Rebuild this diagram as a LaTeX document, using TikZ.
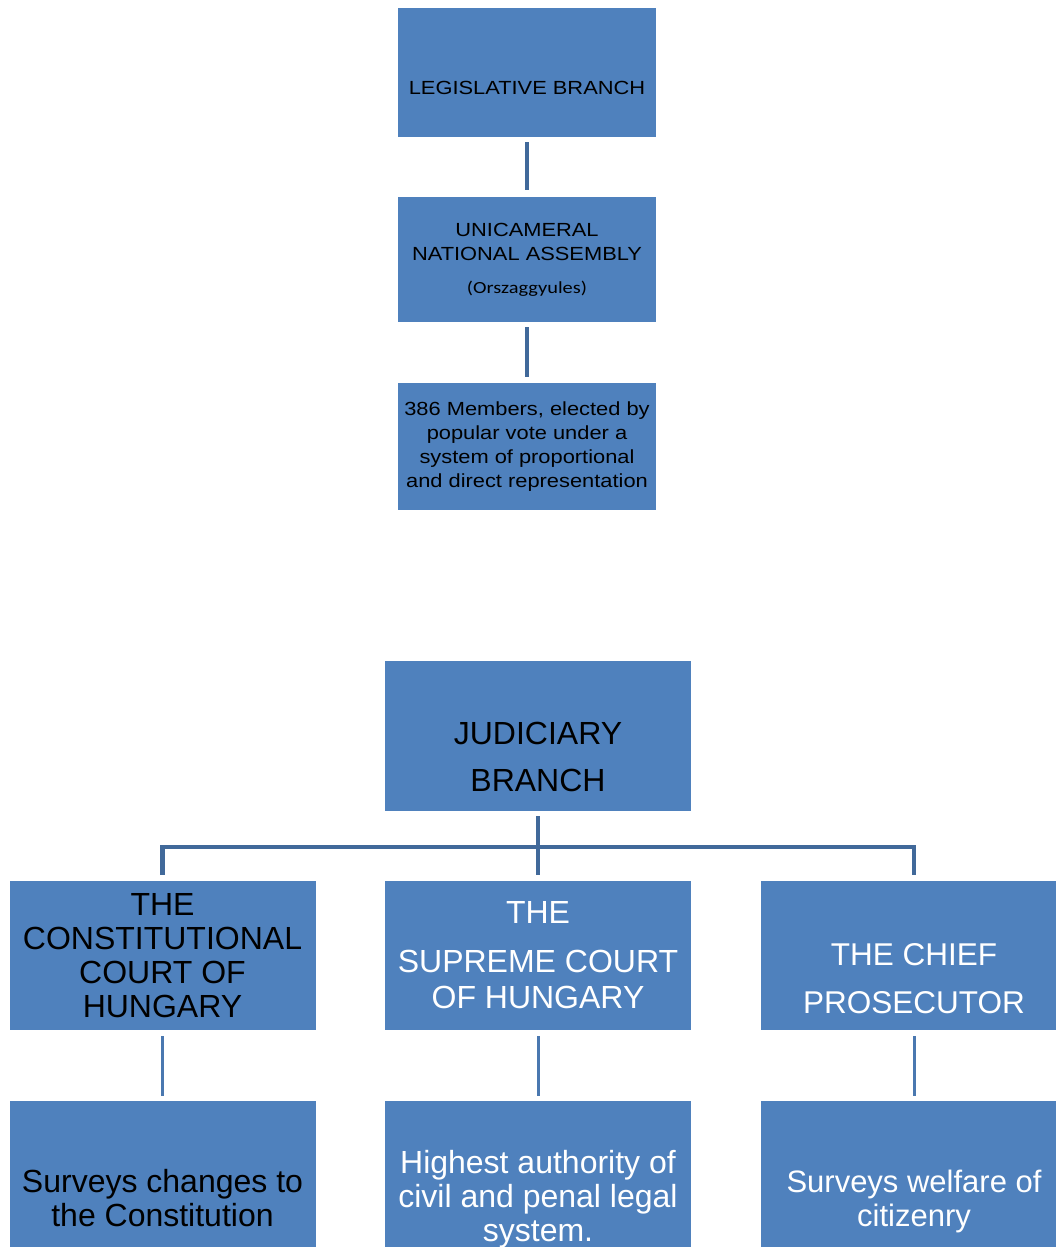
\documentclass[tikz,border=0pt]{standalone}
\usepackage{fontspec}
\setmainfont{Liberation Sans}
\newfontfamily\widefont[FakeStretch=1.15]{Liberation Sans}
\newfontfamily\calfont[FakeStretch=1.2]{Carlito}
\definecolor{boxblue}{HTML}{4F81BD}
\definecolor{lineblue}{HTML}{41699A}
\definecolor{lineblueb}{HTML}{4A78B0}
\begin{document}
\begin{tikzpicture}[x=1pt,y=-1pt,
  box/.style={fill=boxblue, draw=none, inner sep=0pt, align=center},
  topbox/.style={box, minimum width=258pt},
  lowbox/.style={box, minimum width=306pt, minimum height=149pt},
  txt/.style={inner sep=0pt, align=center},
  topfont/.style={font=\widefont\fontsize{19}{24}\selectfont},
  bigfont/.style={font=\fontsize{32}{34}\selectfont},
  conn/.style={draw=lineblue, line width=4pt},
  busline/.style={draw=lineblue, line width=4.5pt, line join=miter},
  lowconn/.style={draw=lineblueb, line width=3pt}]
\clip (0,0) rectangle (1056,1247);
\useasboundingbox (0,0) rectangle (1056,1247);

% legislative
\node[topbox, minimum height=129pt] (leg) at (527,72.5) {};
\node[txt, topfont] (legt) at (527,88) {LEGISLATIVE BRANCH};
\node[topbox, minimum height=125pt, topfont] (uni) at (527,259.5)
  {UNICAMERAL\\NATIONAL ASSEMBLY\\[9pt]{\calfont\fontsize{17}{20}\selectfont (Orszaggyules)}};
\node[topbox, minimum height=127pt, topfont] (mem) at (527,446.5)
  {386 Members, elected by\\popular vote under a\\system of proportional\\and direct representation};
\draw[conn, shorten <=5pt, shorten >=7pt] (leg.south) -- (uni.north);
\draw[conn, shorten <=5pt, shorten >=6pt] (uni.south) -- (mem.north);

% judiciary
\node[box, minimum width=306pt, minimum height=150pt] (jud) at (538,736) {};
\node[txt, font=\fontsize{32}{47}\selectfont] (judt) at (538,756.5) {JUDICIARY\\BRANCH};

\node[lowbox, bigfont] (c1) at (162.5,955.5) {THE\\CONSTITUTIONAL\\COURT OF\\HUNGARY};
\node[lowbox, text=white, font=\fontsize{32}{36}\selectfont] (c2) at (538,955.5)
  {THE\\[13pt]SUPREME COURT\\OF HUNGARY};
\node[lowbox] (c3) at (914,955.5) {};
\node[txt, text=white, font=\fontsize{31.5}{48}\selectfont] (c3t) at (914,979) {THE CHIEF\\PROSECUTOR};

\coordinate (bus) at (538,847);
\draw[busline, shorten <=6pt, shorten >=6pt] (c1.north) |- (bus) -| (c3.north);
\draw[conn, shorten <=5pt, shorten >=6pt] (jud.south) -- (c2.north);

\node[lowbox, minimum height=194pt, bigfont] (d1) at (162.5,1198)
  {Surveys changes to\\the Constitution};
\node[lowbox, minimum height=197pt, text=white, font=\fontsize{32}{34}\selectfont] (d2) at (538,1199.5)
  {Highest authority of\\civil and penal legal\\system.};
\node[lowbox, minimum height=200pt, text=white, font=\fontsize{31}{34}\selectfont] (d3) at (914,1201)
  {Surveys welfare of\\citizenry};

\draw[lowconn, shorten <=6pt, shorten >=5pt] (c1.south) -- (d1.north);
\draw[lowconn, shorten <=6pt, shorten >=5pt] (c2.south) -- (d2.north);
\draw[lowconn, shorten <=6pt, shorten >=5pt] (c3.south) -- (d3.north);
\end{tikzpicture}
\end{document}
